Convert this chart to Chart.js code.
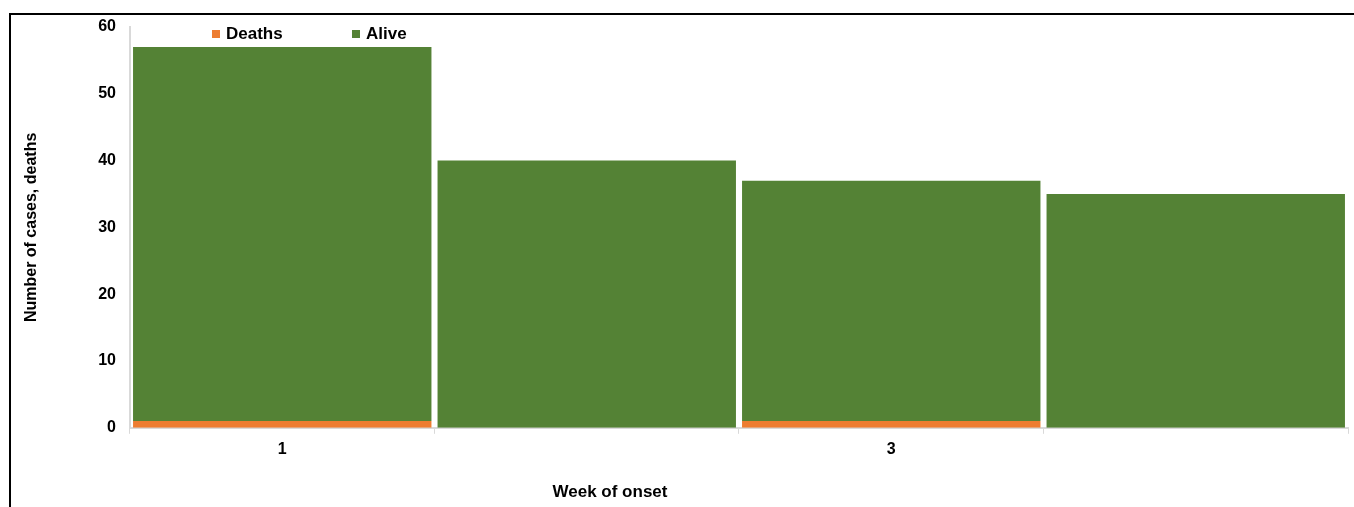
<!DOCTYPE html>
<html>
<head>
<meta charset="utf-8">
<script src="https://cdn.jsdelivr.net/npm/chart.js@4/dist/chart.umd.min.js"></script>
<style>
  html, body { margin: 0; padding: 0; background: #fff; }
  #wrap { position: relative; width: 1354px; height: 507px; overflow: hidden; }
  #frame { position: absolute; left: 9px; top: 13px; right: -10px; bottom: -10px;
           border-left: 2px solid #000; border-top: 2px solid #000; }
  canvas { position: absolute; left: 0; top: 0; }
</style>
</head>
<body>
<div id="wrap">
  <div id="frame"></div>
  <canvas id="chart" width="1354" height="507"></canvas>
</div>
<script>
// semanas de inicio
const weeks = ['1', '2', '3', '4'];
const deaths = [1, 0, 1, 0];
const alive = [56, 40, 36, 35];
const yTicks = [0, 10, 20, 30, 40, 50, 60];

const FONT = '"Liberation Sans", Arial, sans-serif';

// leyenda y título del eje x dibujados a mano
const customText = {
  id: 'customText',
  afterDraw(chart) {
    const ctx = chart.ctx;
    const area = chart.chartArea;
    ctx.save();
    ctx.font = 'bold 17px ' + FONT;
    ctx.textBaseline = 'middle';
    ctx.textAlign = 'left';
    let x = area.left + 82;
    chart.data.datasets.forEach(ds => {
      ctx.fillStyle = ds.backgroundColor;
      ctx.fillRect(x, 30, 8, 8);
      ctx.fillStyle = '#000';
      ctx.fillText(ds.label, x + 14, 34);
      x += 140;
    });
    ctx.font = 'bold 17px ' + FONT;
    ctx.textAlign = 'center';
    ctx.fillText('Week of onset', area.left + 480, 492);
    ctx.restore();
  }
};

const ctx = document.getElementById('chart').getContext('2d');
new Chart(ctx, {
  type: 'bar',
  data: {
    labels: weeks,
    datasets: [
      { label: 'Deaths', data: deaths, backgroundColor: '#ED7D31' },
      { label: 'Alive', data: alive, backgroundColor: '#548235' }
    ]
  },
  options: {
    responsive: false,
    animation: false,
    layout: { padding: { left: 10, top: 27, right: 6, bottom: 42 } },
    datasets: { bar: { categoryPercentage: 1.0, barPercentage: 0.98 } },
    plugins: { legend: { display: false }, tooltip: { enabled: false } },
    scales: {
      x: {
        stacked: true,
        grid: { display: true, drawOnChartArea: false, offset: true, tickLength: 6, color: '#d9d9d9' },
        border: { display: true, color: '#d9d9d9', width: 2 },
        ticks: {
          autoSkip: false, maxRotation: 0, padding: 6, color: '#000',
          font: { family: FONT, size: 16, weight: 'bold' },
          callback: (v, i) => (i % 2 === 0 ? weeks[i] : '')
        }
      },
      y: {
        stacked: true,
        min: 0, max: 60,
        afterBuildTicks: axis => { axis.ticks = yTicks.map(v => ({ value: v })); },
        grid: { display: false },
        border: { display: true, color: '#d9d9d9', width: 2 },
        ticks: { padding: 6, color: '#000', font: { family: FONT, size: 16, weight: 'bold' } },
        title: {
          display: true, text: 'Number of cases, deaths', color: '#000',
          font: { family: FONT, size: 16, weight: 'bold' },
          padding: { top: 12, bottom: 51 }
        }
      }
    }
  },
  plugins: [customText]
});
</script>
</body>
</html>
